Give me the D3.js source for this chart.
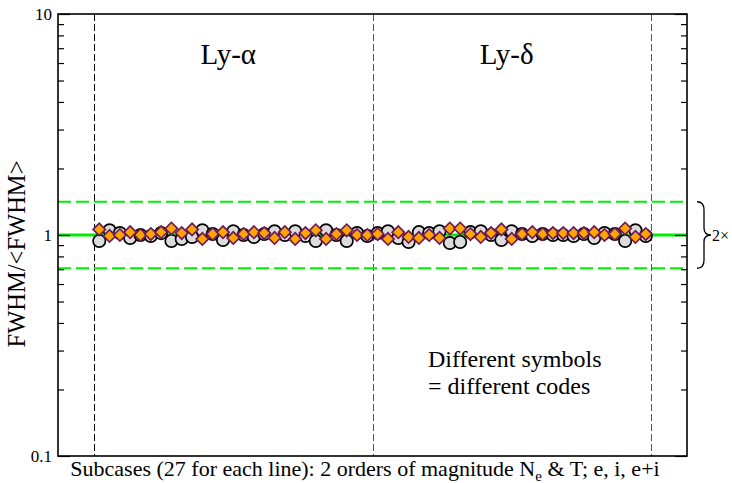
<!DOCTYPE html>
<html>
<head>
<meta charset="utf-8">
<script src="https://cdn.jsdelivr.net/npm/d3@7"></script>
<style>
  html, body { margin: 0; padding: 0; background: #fff; }
  svg { display: block; }
  text { font-family: "Liberation Serif", "Times New Roman", serif; fill: #000; }
</style>
</head>
<body>
<svg id="chart" width="732" height="483"></svg>
<script>
// Subcase index: 27 subcases per line, Ly-alpha then Ly-delta
const lineNames = ["Ly-\u03b1", "Ly-\u03b4"];
const subcasesPerLine = 27;

// FWHM normalised to the mean FWHM, code set A (circles)
const codeA = [
  0.94, 1.05, 1.02, 0.97, 1.00, 0.99, 1.02, 0.94, 0.96, 0.98, 1.05, 1.01, 0.95, 1.04,
  1.00, 0.98, 1.01, 1.04, 1.00, 1.04, 0.99, 0.94, 1.05, 1.00, 0.94, 1.02, 0.99,
  1.02, 1.04, 0.97, 0.93, 1.03, 1.02, 1.04, 0.92, 0.93, 1.03, 1.04, 1.00, 0.95, 1.04,
  1.01, 0.99, 1.01, 1.00, 1.00, 0.99, 1.01, 0.97, 1.02, 1.01, 0.94, 1.05, 0.99
];

// FWHM normalised to the mean FWHM, code set B (diamonds)
const codeB = [
  1.06, 0.99, 1.00, 1.03, 1.00, 1.01, 1.03, 1.07, 1.02, 1.06, 0.96, 1.01, 1.03, 0.97,
  1.01, 1.03, 1.02, 0.97, 1.03, 0.96, 1.02, 1.05, 0.96, 1.01, 1.05, 1.00, 1.00,
  1.01, 0.96, 1.03, 0.98, 0.97, 1.00, 0.97, 1.07, 1.07, 1.01, 0.98, 1.02, 1.06, 0.96,
  1.01, 1.03, 1.01, 1.02, 1.02, 1.02, 1.02, 1.03, 1.00, 1.01, 1.07, 0.98, 1.01
];

// Reference levels: unity and the factor-of-2 band (sqrt 2 either side)
const unity = 1;
const bandLevels = [Math.SQRT2, Math.SQRT1_2];
const majorTicks = [0.1, 1, 10];
const minorTicks = [0.2, 0.3, 0.4, 0.5, 0.6, 0.7, 0.8, 0.9, 2, 3, 4, 5, 6, 7, 8, 9];
// Separators between the two lines (in subcase units)
const separators = [-0.5, 26.5, 53.5];

const svg = d3.select("#chart");
const pL = 58, pR = 687, pT = 14, pB = 456;
const serif = "'Liberation Serif', 'Times New Roman', serif";

const x = d3.scaleLinear().domain([-4, 57]).range([pL, pR]);
const y = d3.scaleLog().domain([0.1, 10]).range([pB, pT]);

const fmt = d => (d >= 1 ? d3.format("d")(d) : d3.format(".1f")(d));

// Vertical dashed separators
svg.append("g").selectAll("line").data(separators).join("line")
  .attr("x1", d => Math.round(x(d)) + 0.5).attr("x2", d => Math.round(x(d)) + 0.5)
  .attr("y1", pT).attr("y2", pB)
  .attr("stroke", (d, i) => (i === 0 ? "#000" : "#555")).attr("stroke-width", 1)
  .attr("stroke-dasharray", "7,3");

// Green unity line and factor-of-2 band
svg.append("line")
  .attr("x1", pL).attr("x2", pR)
  .attr("y1", y(unity)).attr("y2", y(unity))
  .attr("stroke", "#00ee00").attr("stroke-width", 3);
svg.append("g").selectAll("line").data(bandLevels).join("line")
  .attr("x1", pL).attr("x2", pR)
  .attr("y1", d => y(d)).attr("y2", d => y(d))
  .attr("stroke", "#00ee00").attr("stroke-width", 2)
  .attr("stroke-dasharray", "13,5");

// Points: circles first, diamonds on top
const idx = d3.range(codeA.length);
svg.append("g").selectAll("circle").data(idx).join("circle")
  .attr("cx", i => x(i)).attr("cy", i => y(codeA[i])).attr("r", 6.2)
  .attr("fill", "#dcdcdc").attr("stroke", "#000").attr("stroke-width", 1.7);

const diamond = d3.symbol(d3.symbolSquare, 76);
svg.append("g").selectAll("path").data(idx).join("path")
  .attr("d", diamond)
  .attr("transform", i => `translate(${x(i)},${y(codeB[i])}) rotate(45)`)
  .attr("fill", "#ffa500").attr("stroke", "#6e1b5e").attr("stroke-width", 1.7);

// Axes: inward major and minor ticks on both sides
const gl = svg.append("g").attr("transform", `translate(${pL},0)`);
gl.call(d3.axisLeft(y).tickValues(majorTicks).tickFormat(fmt).tickSize(-12).tickPadding(6));
gl.append("g").call(d3.axisLeft(y).tickValues(minorTicks).tickFormat("").tickSize(-6));
const gr = svg.append("g").attr("transform", `translate(${pR},0)`);
gr.call(d3.axisRight(y).tickValues(majorTicks).tickFormat("").tickSize(-12));
gr.append("g").call(d3.axisRight(y).tickValues(minorTicks).tickFormat("").tickSize(-6));
svg.selectAll(".domain").remove();
svg.selectAll(".tick line").attr("stroke", "#000").attr("stroke-width", 1.2);
gl.attr("font-family", serif).attr("font-size", 17);
gl.selectAll(".tick text")
  .style("font-family", serif).style("font-size", "17px").attr("fill", "#000");

// Frame
svg.append("rect")
  .attr("x", pL).attr("y", pT).attr("width", pR - pL).attr("height", pB - pT)
  .attr("fill", "none").attr("stroke", "#000").attr("stroke-width", 1.6);

// Line names
lineNames.forEach((name, k) => {
  const cx = x(k * subcasesPerLine + (subcasesPerLine - 1) / 2) - 5;
  svg.append("text").attr("x", cx).attr("y", 64)
    .attr("text-anchor", "middle").style("font-size", "29px").text(name);
});

// Note
svg.append("text").attr("x", 428).attr("y", 367).style("font-size", "24px").text("Different symbols");
svg.append("text").attr("x", 428).attr("y", 394).style("font-size", "24px").text("= different codes");

// Brace marking the factor-of-2 band
const bx = 697, yT = y(bandLevels[0]), yBt = y(bandLevels[1]), yM = y(unity);
svg.append("path")
  .attr("d", `M${bx},${yT} Q${bx + 7},${yT} ${bx + 7},${yT + 8} L${bx + 7},${yM - 7} Q${bx + 7},${yM} ${bx + 14},${yM}
              Q${bx + 7},${yM} ${bx + 7},${yM + 7} L${bx + 7},${yBt - 8} Q${bx + 7},${yBt} ${bx},${yBt}`)
  .attr("fill", "none").attr("stroke", "#000").attr("stroke-width", 1.3);
svg.append("text").attr("x", 712).attr("y", 241).style("font-size", "16px").text("2\u00d7");

// Axis titles
svg.append("text")
  .attr("transform", `translate(25,254) rotate(-90)`)
  .attr("text-anchor", "middle").style("font-size", "24.5px").text("FWHM/<FWHM>");

const xt = svg.append("text").attr("x", 365).attr("y", 476)
  .attr("text-anchor", "middle").style("font-size", "22px");
xt.append("tspan").text("Subcases (27 for each line): 2 orders of magnitude N");
xt.append("tspan").attr("dy", 5).style("font-size", "15px").text("e");
xt.append("tspan").attr("dy", -5).text(" & T; e, i, e+i");
</script>
</body>
</html>
